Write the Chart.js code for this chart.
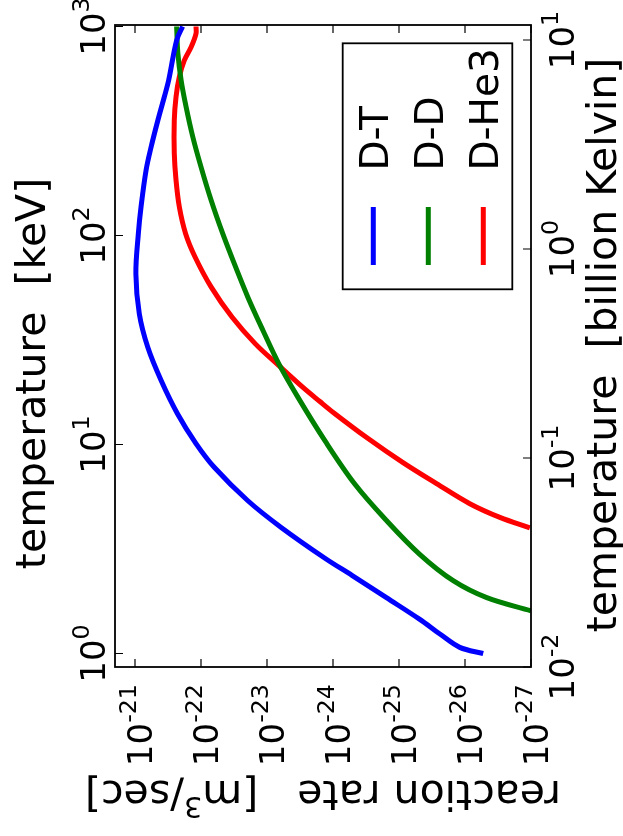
<!DOCTYPE html>
<html>
<head>
<meta charset="utf-8">
<script src="https://cdn.jsdelivr.net/npm/chart.js@4.4.0/dist/chart.umd.min.js"></script>
<style>
html,body{margin:0;padding:0;background:#ffffff;}
#wrap{width:623px;height:836px;position:relative;}
</style>
</head>
<body>
<div id="wrap"><canvas id="c" width="623" height="836"></canvas></div>
<script>
// ---------- data (temperature in keV, reaction rate in m^3/sec) ----------
const seriesNames = ['D-T', 'D-D', 'D-He3'];
const seriesColors = ['#0000ff', '#008000', '#ff0000'];

const tempDT = [1.00, 1.07, 1.24, 1.46, 1.85, 2.36, 2.84, 4.01, 5.38, 7.78, 10.1, 14.0, 20.2, 29.2, 42.2, 65.6, 102, 137, 205, 265, 356, 460, 553, 859, 1000];
const rateDT = [5.3e-27, 1.2e-26, 2.4e-26, 4.9e-26, 1.55e-25, 5.1e-25, 1.29e-24, 6.1e-24, 1.95e-23, 6.3e-23, 1.19e-22, 2.26e-22, 4.0e-22, 6.4e-22, 8.6e-22, 9.7e-22, 8.9e-22, 8.1e-22, 6.8e-22, 5.7e-22, 4.5e-22, 3.6e-22, 3.09e-22, 2.34e-22, 1.9e-22];

const tempDD = [1.60, 1.85, 2.23, 2.99, 4.33, 6.47, 10.4, 16.8, 24.3, 35.1, 50.7, 73.3, 102, 147, 213, 296, 412, 553, 743, 1000];
const rateDD = [1.0e-27, 4.68e-27, 1.51e-26, 4.90e-26, 1.55e-25, 4.68e-25, 1.32e-24, 3.39e-24, 6.61e-24, 1.15e-23, 1.95e-23, 3.13e-23, 4.68e-23, 7.0e-23, 1.0e-22, 1.33e-22, 1.68e-22, 2.0e-22, 2.24e-22, 2.34e-22];

const tempDHe3 = [3.99, 4.48, 5.21, 6.50, 8.19, 10.8, 14.2, 16.05, 18.8, 23.9, 30.3, 40.6, 56.6, 78.9, 102, 137, 184, 247, 356, 460, 574, 689, 798, 925, 1000];
const rateDHe3 = [1.04e-27, 2.96e-27, 8.45e-27, 2.70e-26, 8.69e-26, 3.09e-25, 9.8e-25, 1.58e-24, 2.88e-24, 6.67e-24, 1.50e-23, 3.37e-23, 7.0e-23, 1.23e-22, 1.71e-22, 2.13e-22, 2.39e-22, 2.54e-22, 2.54e-22, 2.39e-22, 2.13e-22, 1.79e-22, 1.41e-22, 1.19e-22, 1.19e-22];

// tick exponents
const rateTickExps = [-21, -22, -23, -24, -25, -26, -27];
const keVTickExps = [0, 1, 2, 3];
const kelvinTickExps = [-2, -1, 0, 1];

// axis titles
const leftTitle = 'temperature  [keV]';
const rightTitle = 'temperature  [billion Kelvin]';
const bottomTitleParts = ['reaction rate   [m', '3', '/sec]'];

const KEV_TO_GK = 0.0116045; // billion Kelvin per keV

const FONT = '"DejaVu Sans", "Liberation Sans", sans-serif';

function pts(t, r) { return t.map((v, i) => ({ x: r[i], y: v })); }

const yMin = 0.8617, yMax = 1016.7;

function drawPow(ctx, x, y, angle, exp, size, align) {
  ctx.save();
  ctx.translate(x, y);
  ctx.rotate(angle);
  const sup = size * 0.7;
  ctx.font = size + 'px ' + FONT;
  const w1 = ctx.measureText('10').width;
  ctx.font = sup + 'px ' + FONT;
  const es = String(exp);
  const w2 = ctx.measureText(es).width;
  const total = w1 + w2;
  const x0 = align === 'center' ? -total / 2 : (align === 'end' ? -total : 0);
  ctx.textAlign = 'left';
  ctx.textBaseline = 'alphabetic';
  ctx.fillStyle = '#000';
  ctx.font = size + 'px ' + FONT;
  ctx.fillText('10', x0, 0);
  ctx.font = sup + 'px ' + FONT;
  ctx.fillText(es, x0 + w1, -size * 0.47);
  ctx.restore();
}

function drawText(ctx, txt, x, y, angle, size, align) {
  ctx.save();
  ctx.translate(x, y);
  ctx.rotate(angle);
  ctx.font = size + 'px ' + FONT;
  ctx.textAlign = align;
  ctx.textBaseline = 'alphabetic';
  ctx.fillStyle = '#000';
  ctx.fillText(txt, 0, 0);
  ctx.restore();
}

const overlay = {
  id: 'overlay',
  afterDatasetsDraw(chart) {
    const ctx = chart.ctx;
    const xs = chart.scales.x, ys = chart.scales.y, y2 = chart.scales.y2;
    const a = chart.chartArea;
    ctx.save();
    // frame
    ctx.strokeStyle = '#000';
    ctx.lineWidth = 1.8;
    ctx.strokeRect(a.left, a.top, a.right - a.left, a.bottom - a.top);
    // tick marks (inward)
    ctx.lineWidth = 1.2;
    ctx.beginPath();
    rateTickExps.forEach(e => {
      const px = xs.getPixelForValue(Math.pow(10, e));
      ctx.moveTo(px, a.bottom); ctx.lineTo(px, a.bottom - 8);
      ctx.moveTo(px, a.top); ctx.lineTo(px, a.top + 8);
    });
    keVTickExps.forEach(e => {
      const py = ys.getPixelForValue(Math.pow(10, e));
      ctx.moveTo(a.left, py); ctx.lineTo(a.left + 8, py);
    });
    kelvinTickExps.forEach(e => {
      const py = y2.getPixelForValue(Math.pow(10, e));
      ctx.moveTo(a.right, py); ctx.lineTo(a.right - 8, py);
    });
    ctx.stroke();
    // tick labels
    rateTickExps.forEach(e => {
      const px = xs.getPixelForValue(Math.pow(10, e));
      drawPow(ctx, px + 17, a.bottom + 17, -Math.PI / 2, e, 34, 'end');
    });
    keVTickExps.forEach(e => {
      const py = ys.getPixelForValue(Math.pow(10, e));
      drawPow(ctx, a.left - 10.5, py, -Math.PI / 2, e, 34, 'center');
    });
    kelvinTickExps.forEach(e => {
      const py = y2.getPixelForValue(Math.pow(10, e));
      drawPow(ctx, a.right + 43, py, -Math.PI / 2, e, 34, 'center');
    });
    // axis titles
    drawText(ctx, leftTitle, 45, 373.5, -Math.PI / 2, 41, 'center');
    drawText(ctx, rightTitle, 616, 345, -Math.PI / 2, 41, 'center');
    // bottom title, upside down with superscript
    {
      const size = 41, sup = size * 0.7;
      ctx.save();
      const cx = (a.left + a.right) / 2;
      ctx.translate(cx, 781);
      ctx.rotate(Math.PI);
      ctx.fillStyle = '#000';
      ctx.textAlign = 'left';
      ctx.textBaseline = 'alphabetic';
      ctx.font = size + 'px ' + FONT;
      const w0 = ctx.measureText(bottomTitleParts[0]).width;
      const w2 = ctx.measureText(bottomTitleParts[2]).width;
      ctx.font = sup + 'px ' + FONT;
      const w1 = ctx.measureText(bottomTitleParts[1]).width;
      let x0 = -(w0 + w1 + w2) / 2;
      ctx.font = size + 'px ' + FONT;
      ctx.fillText(bottomTitleParts[0], x0, 0);
      ctx.font = sup + 'px ' + FONT;
      ctx.fillText(bottomTitleParts[1], x0 + w0, -size * 0.4);
      ctx.font = size + 'px ' + FONT;
      ctx.fillText(bottomTitleParts[2], x0 + w0 + w1, 0);
      ctx.restore();
    }
    // legend
    ctx.fillStyle = '#fff';
    ctx.fillRect(342.7, 43.3, 169.6, 246);
    ctx.strokeStyle = '#000';
    ctx.lineWidth = 1.8;
    ctx.strokeRect(342.7, 43.3, 169.6, 246);
    chart.data.datasets.forEach((ds, i) => {
      const lx = 373.3 + i * 55;
      ctx.strokeStyle = ds.borderColor;
      ctx.lineWidth = 5;
      ctx.lineCap = 'butt';
      ctx.beginPath();
      ctx.moveTo(lx, 265); ctx.lineTo(lx, 207);
      ctx.stroke();
      drawText(ctx, ds.label, lx + 15, 170.5, -Math.PI / 2, 39, 'left');
    });
    ctx.restore();
  }
};

const datasets = [
  { label: seriesNames[0], data: pts(tempDT, rateDT), borderColor: seriesColors[0] },
  { label: seriesNames[1], data: pts(tempDD, rateDD), borderColor: seriesColors[1] },
  { label: seriesNames[2], data: pts(tempDHe3, rateDHe3), borderColor: seriesColors[2] }
].map(d => Object.assign(d, {
  showLine: true, pointRadius: 0, borderWidth: 5, tension: 0.35,
  borderCapStyle: 'butt', borderJoinStyle: 'round', clip: 0, fill: false
}));

new Chart(document.getElementById('c'), {
  type: 'scatter',
  data: { datasets },
  options: {
    responsive: false,
    animation: false,
    devicePixelRatio: 1,
    layout: { padding: { left: 115, top: 25, right: 92, bottom: 169 } },
    plugins: { legend: { display: false }, tooltip: { enabled: false } },
    scales: {
      x: { type: 'logarithmic', reverse: true, min: 1e-27, max: Math.pow(10, -20.697), display: false },
      y: { type: 'logarithmic', min: yMin, max: yMax, display: false },
      y2: { type: 'logarithmic', position: 'right', min: yMin * KEV_TO_GK, max: yMax * KEV_TO_GK, display: false }
    }
  },
  plugins: [overlay]
});
</script>
</body>
</html>
